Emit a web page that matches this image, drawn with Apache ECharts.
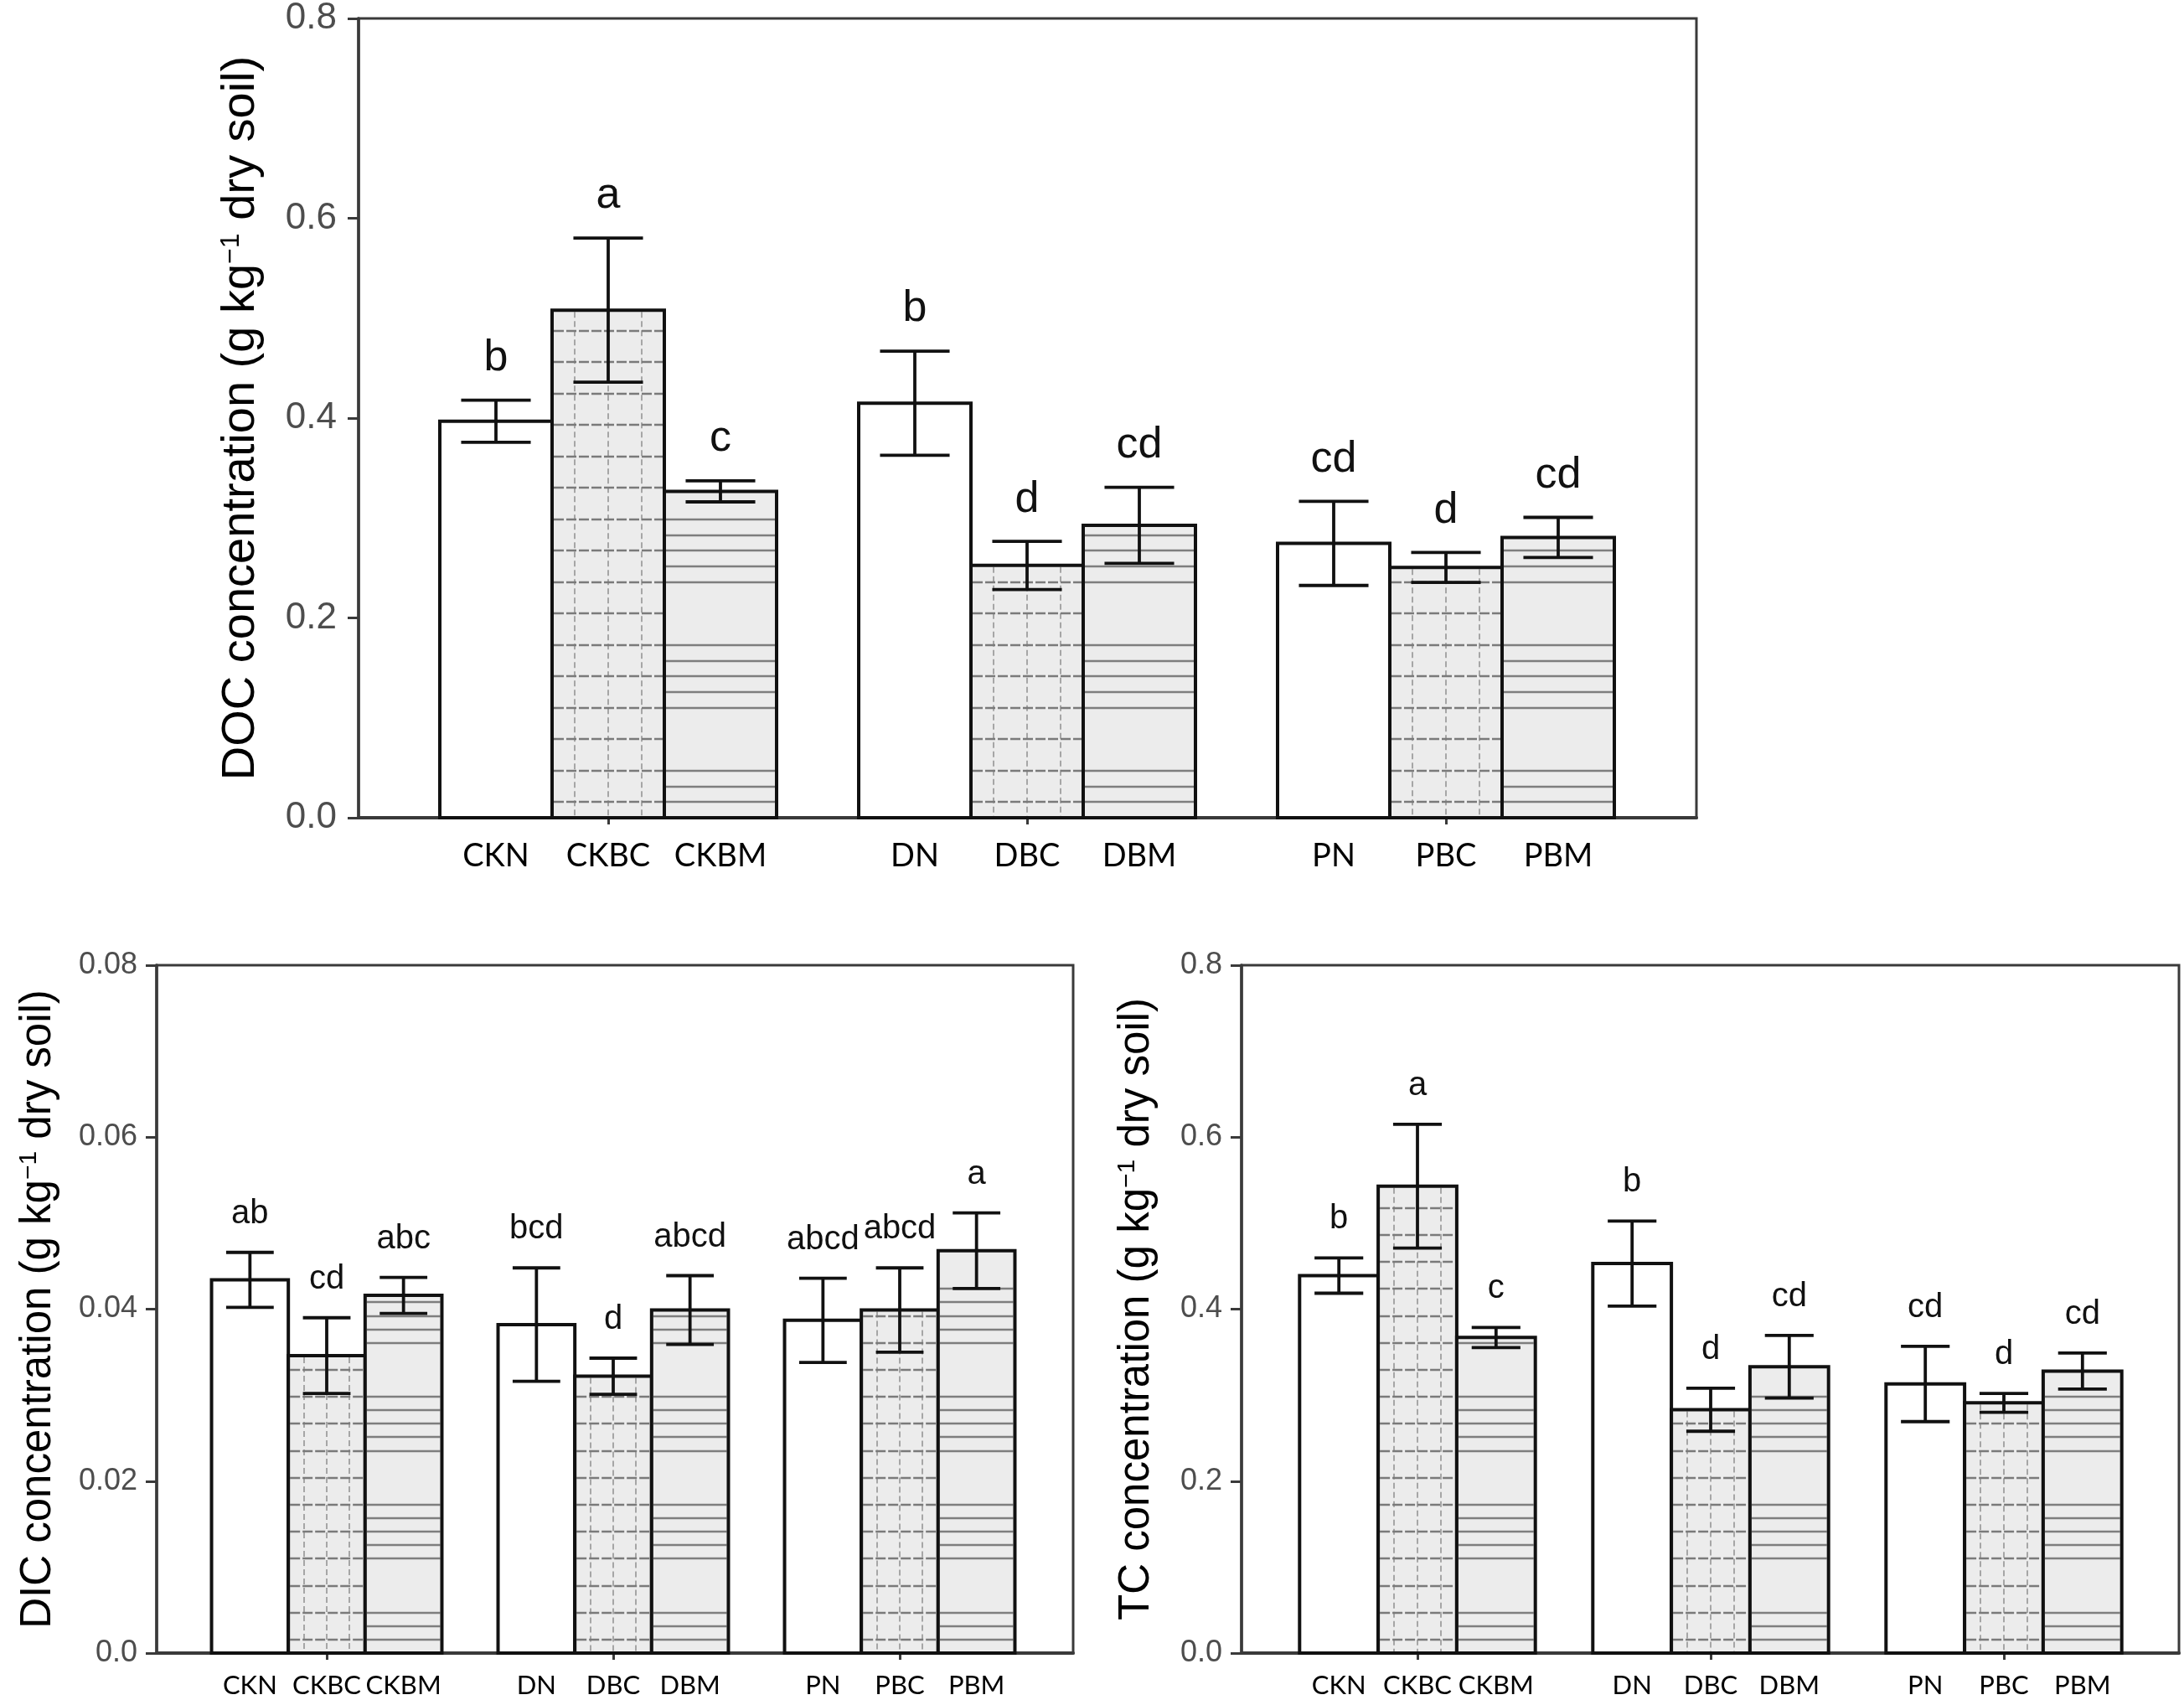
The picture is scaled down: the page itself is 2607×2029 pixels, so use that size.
<!DOCTYPE html>
<html>
<head>
<meta charset="utf-8">
<script src="https://cdn.jsdelivr.net/npm/echarts@6/dist/echarts.min.js"></script>
<style>
html,body{margin:0;padding:0;background:#fff;}
#chart{width:2607px;height:2029px;}
</style>
</head>
<body>
<div id="chart"></div>
<script>
// ---------------- data ----------------
const groups = ['CK', 'D', 'P'];
const treatments = ['N', 'BC', 'BM'];
const barNames = ['CKN', 'CKBC', 'CKBM', 'DN', 'DBC', 'DBM', 'PN', 'PBC', 'PBM'];

const docMean = [0.396, 0.507, 0.326, 0.414, 0.252, 0.292, 0.274, 0.250, 0.280];
const docErr = [0.021, 0.072, 0.0105, 0.052, 0.024, 0.038, 0.042, 0.015, 0.020];
const docLetters = ['b', 'a', 'c', 'b', 'd', 'cd', 'cd', 'd', 'cd'];

const dicMean = [0.0434, 0.0346, 0.0416, 0.0382, 0.0322, 0.0399, 0.0387, 0.0399, 0.0468];
const dicErr = [0.0032, 0.0044, 0.0021, 0.0066, 0.0021, 0.0040, 0.0049, 0.0049, 0.0044];
const dicLetters = ['ab', 'cd', 'abc', 'bcd', 'd', 'abcd', 'abcd', 'abcd', 'a'];

const tcMean = [0.439, 0.543, 0.367, 0.453, 0.283, 0.333, 0.313, 0.291, 0.328];
const tcErr = [0.0205, 0.072, 0.0117, 0.0495, 0.025, 0.0364, 0.0438, 0.011, 0.021];
const tcLetters = ['b', 'a', 'c', 'b', 'd', 'cd', 'cd', 'd', 'cd'];

const yTicksDOC = [0, 0.2, 0.4, 0.6, 0.8];
const yTicksDIC = [0, 0.02, 0.04, 0.06, 0.08];
const yTicksTC = [0, 0.2, 0.4, 0.6, 0.8];

// ---------------- layout / style ----------------
const panels = [
  { mean: docMean, err: docErr, letters: docLetters, ticks: yTicksDOC, dec: 1,
    name: 'DOC concentration (g kg{sup|\u22121} dry soil)',
    frame: { left: 428, top: 20, width: 1597, height: 956 }, inner: { left: 476, width: 1500 },
    tickFont: 44, tickMargin: 26, nameFont: 56, nameGap: 112, letterFont: 52, letterOff: 50,
    labelFont: 38, labelOff: 46 },
  { mean: dicMean, err: dicErr, letters: dicLetters, ticks: yTicksDIC, dec: 2,
    name: 'DIC concentration (g kg{sup|\u22121} dry soil)',
    frame: { left: 187, top: 1152, width: 1094, height: 821 }, inner: { left: 219, width: 1026 },
    tickFont: 36, tickMargin: 23, nameFont: 51, nameGap: 116, letterFont: 40, letterOff: 46,
    labelFont: 31, labelOff: 39 },
  { mean: tcMean, err: tcErr, letters: tcLetters, ticks: yTicksTC, dec: 1,
    name: 'TC concentration (g kg{sup|\u22121} dry soil)',
    frame: { left: 1482, top: 1152, width: 1119, height: 821 }, inner: { left: 1517, width: 1050 },
    tickFont: 36, tickMargin: 23, nameFont: 51, nameGap: 100, letterFont: 40, letterOff: 46,
    labelFont: 31, labelOff: 39 }
];

const AXIS_COLOR = '#3a3a3a';
const BAR_W_FRAC = 0.268;
const FILL_GRAY = '#ececec';

function makeRenderItem(panel, t) {
  return function (params, api) {
    const gi = api.value(0), v = api.value(1), e = api.value(2);
    const idx = gi * 3 + t;
    const band = api.size([1, 0])[0];
    const bw = band * BAR_W_FRAC;
    const c = api.coord([gi, v]);
    const z = api.coord([gi, 0]);
    const cx = c[0] + (t - 1) * bw;
    const x0 = cx - bw / 2;
    const yTop = c[1], y0 = z[1];
    const hi = api.coord([gi, v + e])[1];
    const lo = api.coord([gi, v - e])[1];
    const step = params.coordSys.height / 51;
    const ch = [];
    ch.push({ type: 'rect', shape: { x: x0, y: yTop, width: bw, height: y0 - yTop },
      style: { fill: t === 0 ? '#ffffff' : FILL_GRAY } });
    if (t === 2) {
      for (let k = 1; y0 - k * step > yTop + 3; k++) {
        const m = k % 8;
        if (m === 7 || m === 0 || m === 1 || m === 2 || m === 3) {
          const y = Math.round(y0 - k * step);
          ch.push({ type: 'line', shape: { x1: x0 + 2, y1: y, x2: x0 + bw - 2, y2: y },
            style: { stroke: '#7e7e7e', lineWidth: 2.6 } });
        }
      }
    } else if (t === 1) {
      [0.2, 0.5, 0.8].forEach(f => {
        const x = Math.round(x0 + bw * f);
        ch.push({ type: 'line', shape: { x1: x, y1: yTop + 2, x2: x, y2: y0 },
          style: { stroke: '#a6a6a6', lineWidth: 2, lineDash: [7, 4] } });
      });
      for (let k = 1; y0 - k * step > yTop + 3; k += 2) {
        const y = Math.round(y0 - k * step);
        ch.push({ type: 'line', shape: { x1: x0 + 2, y1: y, x2: x0 + bw - 2, y2: y },
          style: { stroke: '#7a7a7a', lineWidth: 2.4, lineDash: [12, 3] } });
      }
    }
    ch.push({ type: 'rect', shape: { x: x0, y: yTop, width: bw, height: y0 - yTop },
      style: { fill: null, stroke: '#111111', lineWidth: 4 } });
    const capW = bw * 0.62;
    const eb = { stroke: '#111111', lineWidth: 3.8 };
    ch.push({ type: 'line', shape: { x1: cx, y1: hi, x2: cx, y2: lo }, style: eb });
    ch.push({ type: 'line', shape: { x1: cx - capW / 2, y1: hi, x2: cx + capW / 2, y2: hi }, style: eb });
    ch.push({ type: 'line', shape: { x1: cx - capW / 2, y1: lo, x2: cx + capW / 2, y2: lo }, style: eb });
    ch.push({ type: 'text', style: { text: panel.letters[idx], x: cx, y: hi - panel.letterOff,
      align: 'center', verticalAlign: 'middle', fill: '#111111',
      font: panel.letterFont + 'px "Liberation Sans", Arial, sans-serif' } });
    ch.push({ type: 'text', style: { text: barNames[idx], x: cx, y: y0 + panel.labelOff,
      align: 'center', verticalAlign: 'middle', fill: '#000000',
      font: panel.labelFont + 'px Lato, "Open Sans", sans-serif' } });
    return { type: 'group', children: ch };
  };
}

const grid = [], xAxis = [], yAxis = [], series = [];
panels.forEach((p, pi) => {
  const fi = pi * 2, ii = pi * 2 + 1;
  const maxV = p.ticks[p.ticks.length - 1];
  const interval = p.ticks[1] - p.ticks[0];
  grid.push({ left: p.frame.left, top: p.frame.top, width: p.frame.width, height: p.frame.height,
    show: true, borderColor: AXIS_COLOR, borderWidth: 3, backgroundColor: 'transparent' });
  grid.push({ left: p.inner.left, top: p.frame.top, width: p.inner.width, height: p.frame.height });
  xAxis.push({ gridIndex: fi, type: 'value', min: 0, max: 1, show: true,
    axisLine: { show: true, lineStyle: { color: AXIS_COLOR, width: 4 } },
    axisTick: { show: false }, axisLabel: { show: false }, splitLine: { show: false } });
  xAxis.push({ gridIndex: ii, type: 'category', data: groups, boundaryGap: true,
    axisLine: { show: false }, axisLabel: { show: false }, splitLine: { show: false },
    axisTick: { show: true, alignWithLabel: true, length: 8, lineStyle: { color: AXIS_COLOR, width: 3 } } });
  yAxis.push({ gridIndex: fi, type: 'value', min: 0, max: maxV, interval: interval,
    name: p.name, nameLocation: 'middle', nameGap: p.nameGap, nameRotate: 90,
    nameTextStyle: { fontFamily: '"Liberation Sans", Arial, sans-serif', fontSize: p.nameFont, color: '#000000',
      rich: { sup: { fontSize: Math.round(p.nameFont * 0.58), verticalAlign: 'top',
        fontFamily: '"Liberation Sans", Arial, sans-serif', color: '#000000' } } },
    axisLine: { show: true, lineStyle: { color: AXIS_COLOR, width: 3.5 } },
    axisTick: { show: true, inside: false, length: 13, lineStyle: { color: AXIS_COLOR, width: 3 } },
    axisLabel: { margin: p.tickMargin, fontSize: p.tickFont, color: '#4d4d4d',
      fontFamily: '"Liberation Sans", Arial, sans-serif',
      formatter: v => (v === 0 ? '0.0' : v.toFixed(p.dec)) },
    splitLine: { show: false } });
  yAxis.push({ gridIndex: ii, type: 'value', min: 0, max: maxV, interval: interval, show: false });
  treatments.forEach((tr, t) => {
    series.push({
      type: 'custom', name: tr, xAxisIndex: ii, yAxisIndex: ii,
      renderItem: makeRenderItem(p, t),
      data: groups.map((g, gi) => [gi, p.mean[gi * 3 + t], p.err[gi * 3 + t]]),
      encode: { x: 0, y: 1 }, z: 2 + t, clip: false, silent: true
    });
  });
});

const chart = echarts.init(document.getElementById('chart'), null, { renderer: 'canvas' });
chart.setOption({ animation: false, backgroundColor: '#ffffff', grid, xAxis, yAxis, series });
</script>
</body>
</html>
